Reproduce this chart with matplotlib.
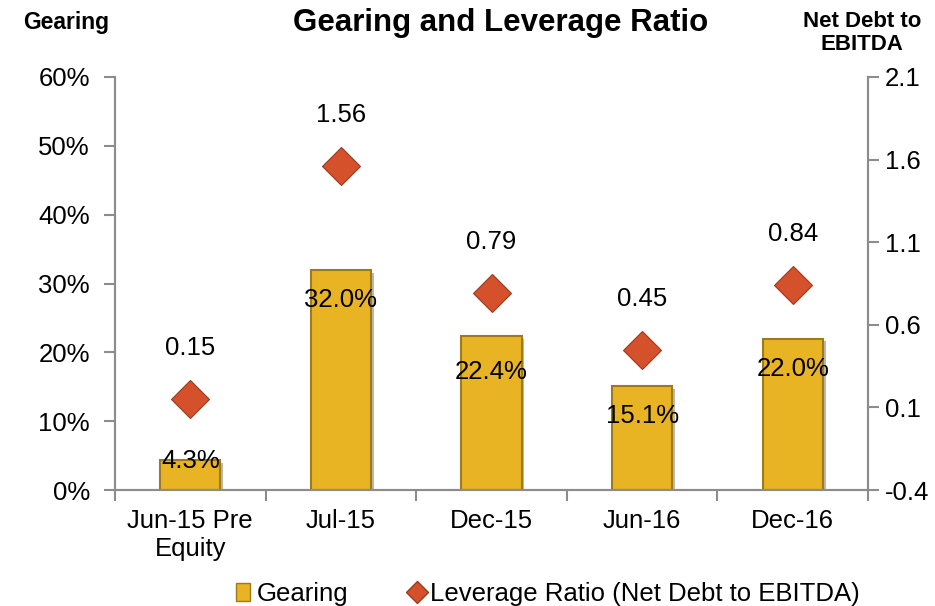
import matplotlib.pyplot as plt
import matplotlib.patheffects as pe
from matplotlib.lines import Line2D
from matplotlib.patches import Patch

plt.rcParams['font.family'] = ['Liberation Sans', 'DejaVu Sans']

categories = ['Jun-15 Pre\nEquity', 'Jul-15', 'Dec-15', 'Jun-16', 'Dec-16']
gearing = [4.3, 32.0, 22.4, 15.1, 22.0]
leverage = [0.15, 1.56, 0.79, 0.45, 0.84]

bar_color = '#E8B423'
bar_edge = '#9C7A1E'
dia_color = '#D4512B'
dia_edge = '#9E3A1C'
axis_gray = '#8C8C8C'

fig = plt.figure(figsize=(9.35, 6.06), dpi=100)
ax = fig.add_axes([115 / 935, 1 - 490 / 606, 753 / 935, 413 / 606])
ax2 = ax.twinx()

x = range(len(categories))
shadow = [pe.SimplePatchShadow(offset=(2, -2), alpha=0.35), pe.Normal()]
bars = ax.bar(x, gearing, width=0.4, color=bar_color, edgecolor=bar_edge,
              linewidth=1.5, zorder=2)
for b in bars:
    b.set_path_effects(shadow)

ax.set_xlim(-0.5, 4.5)
ax.set_ylim(0, 60)
ax.set_yticks(range(0, 61, 10))
ax.set_yticklabels([f'{v}%' for v in range(0, 61, 10)])
ax.set_xticks(list(x))
ax.set_xticklabels(categories)
ax.set_xticks([i - 0.5 for i in range(len(categories) + 1)], minor=True)
ax.tick_params(axis='x', which='major', length=0, labelsize=18.5, pad=14)
ax.tick_params(axis='x', which='minor', length=8, color=axis_gray, width=1.5)
ax.tick_params(axis='y', length=8, color=axis_gray, width=1.5, labelsize=18.5, pad=10)

for xi, v in zip(x, gearing):
    off = -1 if v < 10 else (-36 if v > 22.2 and v < 30 else -30)
    ax.annotate(f'{v:.1f}%', (xi, v), xytext=(0, off), textcoords='offset pixels',
                ha='center', va='center', fontsize=18.5, zorder=5)

ax2.plot(list(x), leverage, linestyle='none', marker='D', markersize=19,
         markerfacecolor=dia_color, markeredgecolor=dia_edge, markeredgewidth=0.8,
         zorder=3)
ax2.set_ylim(-0.4, 2.1)
ax2.set_yticks([-0.4, 0.1, 0.6, 1.1, 1.6, 2.1])
ax2.set_yticklabels(['-0.4', '0.1', '0.6', '1.1', '1.6', '2.1'])
ax2.tick_params(axis='y', length=8, color=axis_gray, width=1.5, labelsize=18.5, pad=4)

for xi, v in zip(x, leverage):
    ax2.annotate(f'{v:.2f}', (xi, v), xytext=(0, 51), textcoords='offset pixels',
                 ha='center', va='center', fontsize=18.5)

for a in (ax, ax2):
    a.spines['top'].set_visible(False)
    for s in ('left', 'right', 'bottom'):
        a.spines[s].set_color(axis_gray)
        a.spines[s].set_linewidth(1.5)

fig.text(501 / 935, 1 - 23 / 606, 'Gearing and Leverage Ratio', ha='center', va='center',
         fontsize=22.5, fontweight='bold')
fig.text(66 / 935, 1 - 23 / 606, 'Gearing', ha='center', va='center',
         fontsize=16.5, fontweight='bold')
fig.text(862 / 935, 1 - 33 / 606, 'Net Debt to\nEBITDA', ha='center', va='center',
         fontsize=16, fontweight='bold', linespacing=1.1)

handles = [Patch(facecolor=bar_color, edgecolor=bar_edge, label='Gearing'),
           Line2D([], [], linestyle='none', marker='D', markersize=11,
                  markerfacecolor=dia_color, markeredgecolor=dia_edge,
                  label='Leverage Ratio (Net Debt to EBITDA)')]
fig.legend(handles=handles, loc='center', bbox_to_anchor=(548 / 935, 1 - 594 / 606),
           ncol=2, frameon=False, fontsize=18.5, handlelength=0.55, handleheight=0.65,
           handletextpad=0.25, columnspacing=2.4, borderaxespad=0)

fig.savefig('out.png', dpi=100)
